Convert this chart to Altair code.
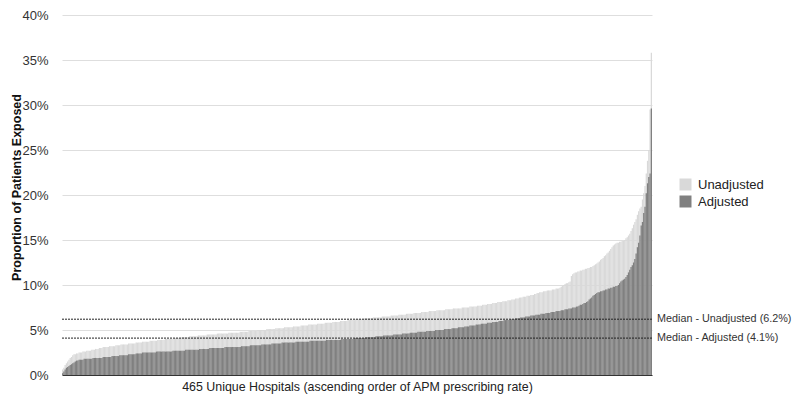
import altair as alt
import pandas as pd

# Values (percent of patients exposed), each series sorted ascending
ADJUSTED = [
    0.2, 0.4, 0.6, 0.8, 0.9, 1.0, 1.1, 1.2, 1.3, 1.4, 1.5, 1.6, 1.6, 1.7, 1.7,
    1.7, 1.7, 1.8, 1.8, 1.8, 1.8, 1.8, 1.8, 1.8, 1.9, 1.9, 1.9,
    1.9, 1.9, 1.9, 1.9, 1.9,
    2.0, 2.0, 2.0, 2.0, 2.0, 2.0, 2.0,
    2.1, 2.1, 2.1, 2.1, 2.1, 2.1,
    2.2, 2.2, 2.2, 2.2, 2.2, 2.2, 2.2,
    2.3, 2.3, 2.3, 2.3, 2.3, 2.3,
    2.4, 2.4, 2.4, 2.4, 2.4,
    2.5, 2.5, 2.5, 2.5, 2.5, 2.5, 2.5, 2.5, 2.5, 2.5, 2.5,
    2.6, 2.6, 2.6, 2.6, 2.6, 2.6, 2.6, 2.6, 2.6, 2.6, 2.6, 2.6, 2.6,
    2.7, 2.7, 2.7, 2.7, 2.7, 2.7, 2.7, 2.7, 2.7, 2.7,
    2.8, 2.8, 2.8, 2.8, 2.8, 2.8, 2.8, 2.8, 2.8, 2.8, 2.8,
    2.9, 2.9, 2.9, 2.9, 2.9, 2.9, 2.9, 2.9,
    3.0, 3.0, 3.0, 3.0, 3.0, 3.0, 3.0, 3.0, 3.0, 3.0, 3.0, 3.0,
    3.1, 3.1, 3.1, 3.1, 3.1, 3.1, 3.1, 3.1, 3.1, 3.1, 3.1, 3.1, 3.1,
    3.2, 3.2, 3.2, 3.2, 3.2, 3.2, 3.2,
    3.3, 3.3, 3.3, 3.3, 3.3, 3.3, 3.3, 3.3, 3.3,
    3.4, 3.4, 3.4, 3.4, 3.4, 3.4, 3.4, 3.4,
    3.5, 3.5, 3.5, 3.5, 3.5, 3.5, 3.5, 3.5,
    3.6, 3.6, 3.6, 3.6, 3.6, 3.6, 3.6, 3.6, 3.6, 3.6, 3.6,
    3.7, 3.7, 3.7, 3.7, 3.7, 3.7, 3.7, 3.7, 3.7, 3.7, 3.7,
    3.8, 3.8, 3.8, 3.8, 3.8, 3.8, 3.8, 3.8, 3.8, 3.8, 3.8, 3.8, 3.8,
    3.9, 3.9, 3.9, 3.9, 3.9, 3.9, 3.9, 3.9, 3.9, 3.9, 3.9, 3.9,
    4.0, 4.0, 4.0, 4.0, 4.0, 4.0, 4.0, 4.0, 4.0, 4.0,
    4.1, 4.1, 4.1, 4.1, 4.1, 4.1, 4.1, 4.1, 4.1,
    4.2, 4.2, 4.2, 4.2, 4.2, 4.2, 4.2, 4.2,
    4.3, 4.3, 4.3, 4.3, 4.3, 4.3,
    4.4, 4.4, 4.4, 4.4, 4.4, 4.4, 4.4, 4.4,
    4.5, 4.5, 4.5, 4.5, 4.5, 4.5, 4.5,
    4.6, 4.6, 4.6, 4.6, 4.6, 4.6,
    4.7, 4.7, 4.7, 4.7, 4.7, 4.7,
    4.8, 4.8, 4.8, 4.8, 4.8, 4.8, 4.8,
    4.9, 4.9, 4.9, 4.9, 4.9, 4.9, 4.9,
    5.0, 5.0, 5.0, 5.0, 5.0, 5.0, 5.0,
    5.1, 5.1, 5.1, 5.1, 5.1, 5.1,
    5.2, 5.2, 5.2, 5.2, 5.2,
    5.3, 5.3, 5.3, 5.3, 5.3,
    5.4, 5.4, 5.4, 5.4,
    5.5, 5.5, 5.5, 5.5, 5.5,
    5.6, 5.6, 5.6, 5.6,
    5.7, 5.7, 5.7, 5.7, 5.7,
    5.8, 5.8, 5.8, 5.8,
    5.9, 5.9, 5.9, 5.9, 5.9,
    6.0, 6.0, 6.0, 6.0,
    6.1, 6.1, 6.1, 6.1, 6.1,
    6.2, 6.2, 6.2, 6.2,
    6.3, 6.3, 6.3, 6.3,
    6.4, 6.4, 6.4, 6.4,
    6.5, 6.5, 6.5, 6.5,
    6.6, 6.6, 6.6, 6.6,
    6.7, 6.7, 6.7, 6.7,
    6.8, 6.8, 6.8, 6.8,
    6.9, 6.9, 6.9, 6.9,
    7.0, 7.0, 7.0, 7.0,
    7.1, 7.1, 7.1, 7.1,
    7.2, 7.2, 7.2,
    7.3, 7.3, 7.3,
    7.4, 7.4, 7.4,
    7.5, 7.5, 7.5,
    7.6, 7.6, 7.7, 7.8, 7.8, 7.9, 8.0, 8.0, 8.1, 8.2,
    8.4, 8.5, 8.6, 8.8, 8.9, 9.0, 9.1, 9.2, 9.2, 9.3,
    9.3, 9.4, 9.4, 9.5, 9.5, 9.6, 9.6, 9.7, 9.7, 9.8,
    9.8, 9.9, 9.9, 10.0, 10.2, 10.4, 10.5, 10.6, 10.7, 10.9,
    11.1, 11.4, 11.7, 12.0, 12.2, 12.5, 12.9, 13.5, 14.2, 14.7,
    15.5, 16.6, 17.0, 18.0, 18.7, 20.2, 21.3, 22.0, 22.4, 29.6,
]

UNADJUSTED = [
    0.6, 0.8, 1.1, 1.3, 1.5, 1.7, 1.9, 2.0, 2.2, 2.3, 2.3, 2.4, 2.4,
    2.5, 2.5, 2.5,
    2.6, 2.6, 2.6,
    2.7, 2.7, 2.7, 2.7,
    2.8, 2.8, 2.8,
    2.9, 2.9, 2.9,
    3.0, 3.0, 3.0,
    3.1, 3.1, 3.1, 3.1, 3.1,
    3.2, 3.2, 3.2, 3.2, 3.2,
    3.3, 3.3, 3.3, 3.3,
    3.4, 3.4, 3.4, 3.4, 3.4, 3.4,
    3.5, 3.5, 3.5, 3.5, 3.5, 3.5,
    3.6, 3.6, 3.6, 3.6, 3.6,
    3.7, 3.7, 3.7, 3.7, 3.7, 3.7,
    3.8, 3.8, 3.8, 3.8, 3.8, 3.8,
    3.9, 3.9, 3.9, 3.9, 3.9, 3.9,
    4.0, 4.0, 4.0, 4.0, 4.0, 4.0, 4.0,
    4.1, 4.1, 4.1, 4.1, 4.1, 4.1,
    4.2, 4.2, 4.2, 4.2, 4.2, 4.2,
    4.3, 4.3, 4.3, 4.3, 4.3, 4.3, 4.3,
    4.4, 4.4, 4.4, 4.4, 4.4, 4.4, 4.4,
    4.5, 4.5, 4.5, 4.5, 4.5, 4.5, 4.5, 4.5,
    4.6, 4.6, 4.6, 4.6, 4.6, 4.6, 4.6, 4.6, 4.6,
    4.7, 4.7, 4.7, 4.7, 4.7, 4.7, 4.7, 4.7, 4.7,
    4.8, 4.8, 4.8, 4.8, 4.8, 4.8, 4.8,
    4.9, 4.9, 4.9, 4.9, 4.9, 4.9, 4.9,
    5.0, 5.0, 5.0, 5.0, 5.0, 5.0, 5.0,
    5.1, 5.1, 5.1, 5.1, 5.1, 5.1, 5.1,
    5.2, 5.2, 5.2, 5.2, 5.2, 5.2, 5.2,
    5.3, 5.3, 5.3, 5.3, 5.3, 5.3, 5.3,
    5.4, 5.4, 5.4, 5.4, 5.4, 5.4,
    5.5, 5.5, 5.5, 5.5, 5.5, 5.5,
    5.6, 5.6, 5.6, 5.6, 5.6, 5.6, 5.6,
    5.7, 5.7, 5.7, 5.7, 5.7, 5.7,
    5.8, 5.8, 5.8, 5.8, 5.8, 5.8,
    5.9, 5.9, 5.9, 5.9, 5.9, 5.9,
    6.0, 6.0, 6.0, 6.0, 6.0, 6.0,
    6.1, 6.1, 6.1, 6.1, 6.1, 6.1,
    6.2, 6.2, 6.2, 6.2, 6.2, 6.2, 6.2,
    6.3, 6.3, 6.3, 6.3, 6.3, 6.3, 6.3,
    6.4, 6.4, 6.4, 6.4, 6.4, 6.4, 6.4,
    6.5, 6.5, 6.5, 6.5, 6.5, 6.5, 6.5,
    6.6, 6.6, 6.6, 6.6, 6.6, 6.6,
    6.7, 6.7, 6.7, 6.7, 6.7, 6.7,
    6.8, 6.8, 6.8, 6.8, 6.8, 6.8,
    6.9, 6.9, 6.9, 6.9, 6.9, 6.9,
    7.0, 7.0, 7.0, 7.0, 7.0, 7.0,
    7.1, 7.1, 7.1, 7.1, 7.1, 7.1,
    7.2, 7.2, 7.2, 7.2, 7.2, 7.2, 7.2,
    7.3, 7.3, 7.3, 7.3, 7.3, 7.3,
    7.4, 7.4, 7.4, 7.4, 7.4, 7.4, 7.4,
    7.5, 7.5, 7.5, 7.5, 7.5, 7.5,
    7.6, 7.6, 7.6, 7.6, 7.6, 7.6,
    7.7, 7.7, 7.7, 7.7,
    7.8, 7.8, 7.8, 7.8,
    7.9, 7.9, 7.9, 7.9,
    8.0, 8.0, 8.0, 8.0,
    8.1, 8.1, 8.1, 8.1,
    8.2, 8.2, 8.2, 8.2,
    8.3, 8.3, 8.3,
    8.4, 8.4, 8.4,
    8.5, 8.5, 8.5,
    8.6, 8.6, 8.6,
    8.7, 8.7, 8.7,
    8.8, 8.8, 8.8,
    8.9, 8.9, 8.9,
    9.0, 9.0,
    9.1, 9.1,
    9.2, 9.2, 9.2,
    9.3, 9.3, 9.3,
    9.4, 9.4, 9.4, 9.4,
    9.5, 9.5, 9.5,
    9.6, 9.6, 9.6,
    9.7, 9.8, 9.9, 10.0, 10.1, 10.2, 10.2, 10.3, 10.4, 11.0, 11.2, 11.3, 11.4,
    11.4, 11.5, 11.5, 11.6, 11.6, 11.7, 11.7, 11.8, 11.8, 11.9, 11.9, 12.0, 12.0,
    12.1, 12.2, 12.3, 12.4, 12.5, 12.6, 12.8, 12.9, 13.0, 13.2,
    13.3, 13.5, 13.6, 13.8, 14.0, 14.2, 14.4, 14.5, 14.6, 14.7,
    14.7, 14.8, 14.8, 14.9, 14.9, 15.0, 15.2, 15.3, 15.5, 15.7,
    16.0, 16.3, 16.7, 17.0, 17.3, 17.8, 18.2, 18.5, 18.7, 19.5,
    20.2, 21.0, 22.4, 23.8, 25.0, 29.5, 35.8,
]

SERIES = ["Unadjusted", "Adjusted"]
SERIES_COLORS = ["#d9d9d9", "#808080"]
MEDIAN_VALUES = [6.2, 4.1]
MEDIAN_LABELS = ["Median - Unadjusted (6.2%)", "Median - Adjusted (4.1%)"]
Y_TICKS = [0, 5, 10, 15, 20, 25, 30, 35, 40]
X_TITLE = "465 Unique Hospitals (ascending order of APM prescribing rate)"
Y_TITLE = "Proportion of Patients Exposed"

if len(ADJUSTED) != 465 or len(UNADJUSTED) != 465:
    raise SystemExit(f"lengths {len(ADJUSTED)} {len(UNADJUSTED)}")

rows = []
for name, vals in (("Unadjusted", UNADJUSTED), ("Adjusted", ADJUSTED)):
    for i, v in enumerate(vals):
        rows.append({"idx": i, "value": v, "series": name})
df = pd.DataFrame(rows)
med = pd.DataFrame({"value": MEDIAN_VALUES, "label": MEDIAN_LABELS})

FONT = "Liberation Sans"
W, H = 590, 360

x_enc = alt.X(
    "idx:O",
    scale=alt.Scale(paddingInner=0, paddingOuter=0),
    axis=alt.Axis(
        labels=False, ticks=False, grid=False, domain=True,
        domainColor="#333333", domainWidth=1, zindex=1,
        title=X_TITLE, titleFontSize=12.4, titleFontWeight="normal",
        titleColor="#222222", titlePadding=5, titleFont=FONT,
    ),
)
y_enc = alt.Y(
    "value:Q",
    scale=alt.Scale(domain=[0, 40], nice=False),
    axis=alt.Axis(
        values=Y_TICKS, labelExpr="datum.value + '%'", domain=False, ticks=False,
        grid=True, gridColor="#dedede", gridWidth=1,
        labelFontSize=13, labelColor="#333333", labelPadding=14, labelFont=FONT,
        title=Y_TITLE, titleFontSize=12.5, titleFontWeight="bold",
        titleColor="#111111", titleFont=FONT,
        titleX=-39, titleY=172, titleAnchor="middle",
    ),
)
color_enc = alt.Color(
    "series:N",
    scale=alt.Scale(domain=SERIES, range=SERIES_COLORS),
    legend=alt.Legend(
        title=None, orient="none", legendX=617, legendY=163,
        symbolType="square", symbolSize=144, symbolStrokeWidth=0,
        labelFontSize=13, labelColor="#222222", labelFont=FONT,
        labelOffset=6, rowPadding=3,
    ),
)

base = alt.Chart(df)
bars_u = base.transform_filter(alt.datum.series == "Unadjusted").mark_bar(strokeWidth=0).encode(
    x=x_enc, y=y_enc, color=color_enc
)
bars_a = base.transform_filter(alt.datum.series == "Adjusted").mark_bar(strokeWidth=0).encode(
    x=x_enc, y=y_enc, color=color_enc
)
rules = alt.Chart(med).mark_rule(strokeDash=[2, 1], color="#222222", strokeWidth=1).encode(
    y=alt.Y("value:Q"), x=alt.value(0), x2=alt.value(W)
)
labels = alt.Chart(med).mark_text(
    align="left", baseline="middle", fontSize=10.8, color="#333333", font=FONT
).encode(y=alt.Y("value:Q"), x=alt.value(W + 5), text="label:N")

chart = alt.layer(bars_u, bars_a, rules, labels).properties(
    width=W, height=H,
    autosize=alt.AutoSizeParams(type="none"),
    padding={"left": 54, "top": 7, "right": 140, "bottom": 20},
).configure(font=FONT).configure_view(stroke="transparent")

chart.save("out.html", embed_options={"renderer": "svg", "actions": False})
